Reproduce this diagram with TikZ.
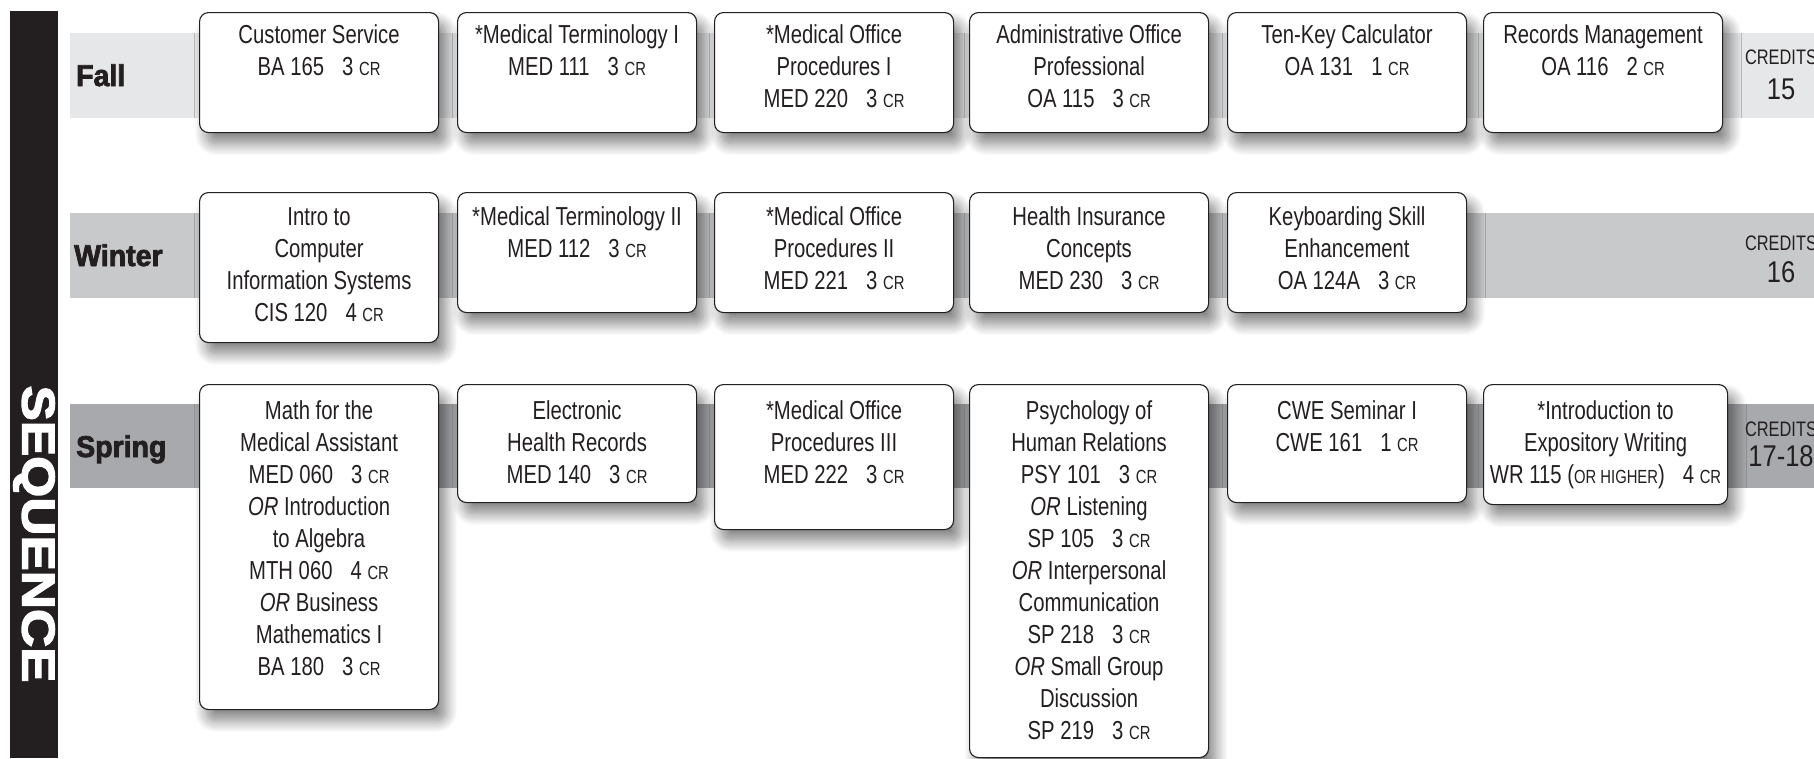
\documentclass[tikz,border=0pt]{standalone}
\usepackage{fontspec}
\setmainfont{Liberation Sans}[FakeStretch=0.78]
\newfontfamily\heavyfont{Liberation Sans}[UprightFont={* Bold}, FakeBold=2.5, FakeStretch=0.95]
\newfontfamily\seqfont{Liberation Sans}[UprightFont={* Bold}, FakeBold=3, FakeStretch=1.15]
\newfontfamily\numfont{Liberation Sans}[FakeStretch=0.85]
\usetikzlibrary{shadows.blur}
\definecolor{ink}{HTML}{231F20}
\definecolor{fallband}{HTML}{E6E7E8}
\definecolor{winterband}{HTML}{C8C9CB}
\definecolor{springband}{HTML}{A7A9AC}
\newcommand\CRs{{\fontsize{19pt}{19pt}\selectfont CR}}
\newcommand\SCs[1]{{\fontsize{19pt}{19pt}\selectfont #1}}
\newcommand\sgap{\hspace{18pt}}
\newlength\firstoff
\tikzset{
  course/.style={draw=ink, line width=1.1pt, rounded corners=9pt, fill=white,
    inner sep=0pt, anchor=north west, text=ink,
    font=\fontsize{26pt}{32pt}\selectfont,
    blur shadow={shadow xshift=7pt, shadow yshift=-11pt, shadow blur radius=12pt, shadow blur steps=14, shadow opacity=50}},
  term/.style={font=\heavyfont\fontsize{30pt}{30pt}\selectfont, text=ink, anchor=base west, inner sep=0pt},
  credlbl/.style={font=\fontsize{21pt}{21pt}\selectfont, text=ink, anchor=base, inner sep=0pt},
  crednum/.style={font=\numfont\fontsize{30pt}{30pt}\selectfont, text=ink, anchor=base, inner sep=0pt},
}
\newcommand\course[6]{%
  \node[course] (#1) at (#2,#3) {\parbox[c][#5pt][t]{#4pt}{\centering\rule{0pt}{\firstoff}#6\par}};}
\begin{document}
\begin{tikzpicture}[x=1pt, y=-1pt]
\useasboundingbox (0,0) rectangle (1814,758);
% sequence bar
\fill[ink] (10,11) rectangle (58,758);
\node[rotate=-90, text=white, font=\seqfont\fontsize{46pt}{46pt}\selectfont, inner sep=0pt] (seq) at (34,534) {SEQUENCE};
% bands
\fill[fallband] (70,33) rectangle (1814,118);
\fill[winterband] (70,213) rectangle (1814,298);
\fill[springband] (70,404) rectangle (1814,488);
\node[term] (fall) at (76,86) {Fall};
\node[term] (winter) at (74,266) {Winter};
\node[term] (spring) at (76,457) {Spring};
% Fall
\setlength\firstoff{31pt}
\course{f1}{199}{12}{239}{120}{Customer Service\\BA 165\sgap 3 \CRs}
\course{f2}{457}{12}{239}{120}{*Medical Terminology I\\MED 111\sgap 3 \CRs}
\course{f3}{714}{12}{239}{120}{*Medical Office\\Procedures I\\MED 220\sgap 3 \CRs}
\course{f4}{969}{12}{239}{120}{Administrative Office\\Professional\\OA 115\sgap 3 \CRs}
\course{f5}{1227}{12}{239}{120}{Ten-Key Calculator\\OA 131\sgap 1 \CRs}
\course{f6}{1483}{12}{239}{120}{Records Management\\OA 116\sgap 2 \CRs}
% Winter
\setlength\firstoff{33pt}
\course{w1}{199}{192}{239}{150}{Intro to\\Computer\\Information Systems\\CIS 120\sgap 4 \CRs}
\course{w2}{457}{192}{239}{120}{*Medical Terminology II\\MED 112\sgap 3 \CRs}
\course{w3}{714}{192}{239}{120}{*Medical Office\\Procedures II\\MED 221\sgap 3 \CRs}
\course{w4}{969}{192}{239}{120}{Health Insurance\\Concepts\\MED 230\sgap 3 \CRs}
\course{w5}{1227}{192}{239}{120}{Keyboarding Skill\\Enhancement\\OA 124A\sgap 3 \CRs}
% Spring
\setlength\firstoff{35pt}
\course{s1}{199}{384}{239}{325}{Math for the\\Medical Assistant\\MED 060\sgap 3 \CRs\\\textit{OR} Introduction\\to Algebra\\MTH 060\sgap 4 \CRs\\\textit{OR} Business\\Mathematics I\\BA 180\sgap 3 \CRs}
\course{s2}{457}{384}{239}{118}{Electronic\\Health Records\\MED 140\sgap 3 \CRs}
\course{s3}{714}{384}{239}{145}{*Medical Office\\Procedures III\\MED 222\sgap 3 \CRs}
\course{s4}{969}{384}{239}{373}{Psychology of\\Human Relations\\PSY 101\sgap 3 \CRs\\\textit{OR} Listening\\SP 105\sgap 3 \CRs\\\textit{OR} Interpersonal\\Communication\\SP 218\sgap 3 \CRs\\\textit{OR} Small Group\\Discussion\\SP 219\sgap 3 \CRs}
\course{s5}{1227}{384}{239}{118}{CWE Seminar I\\CWE 161\sgap 1 \CRs}
\course{s6}{1483}{384}{244}{120}{*Introduction to\\Expository Writing\\WR 115 (\SCs{OR HIGHER})\sgap 4 \CRs}
% credits
\node[credlbl] (fcl) at (1781,64) {CREDITS};
\node[crednum] (fcn) at (1781,99) {15};
\node[credlbl] (wcl) at (1781,250) {CREDITS};
\node[crednum] (wcn) at (1781,282) {16};
\node[credlbl] (scl) at (1781,436) {CREDITS};
\node[crednum] (scn) at (1781,466) {17-18};
\end{tikzpicture}
\end{document}
